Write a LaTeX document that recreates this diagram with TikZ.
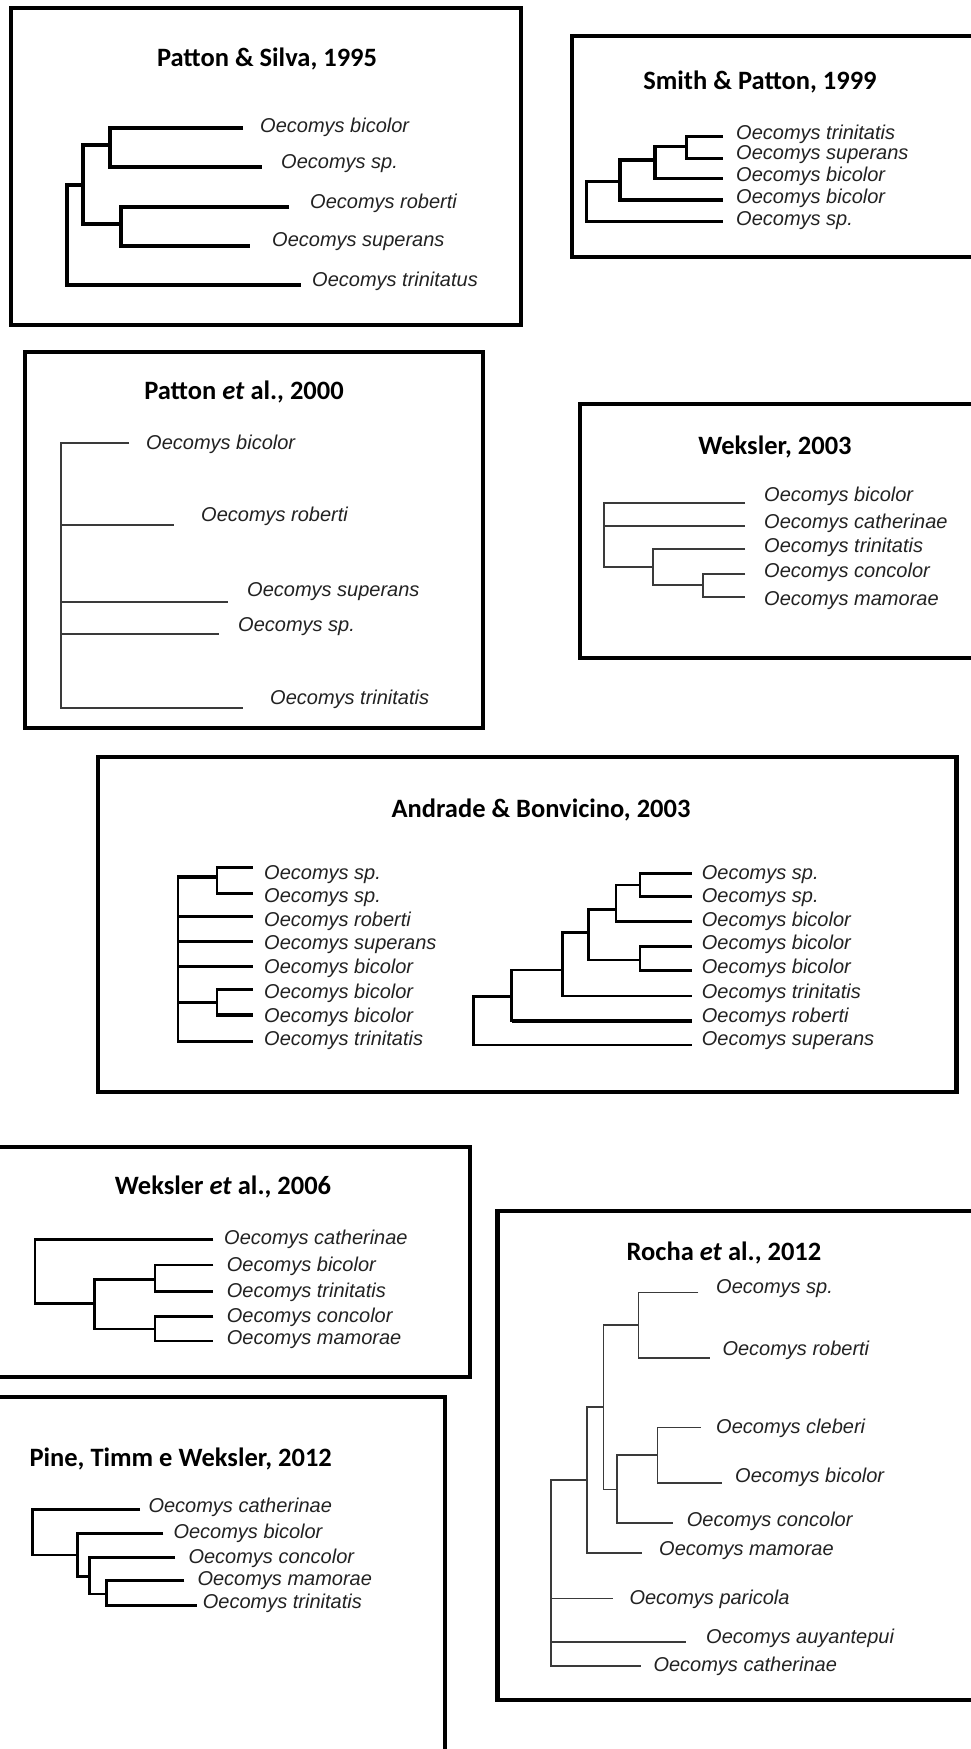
\documentclass[tikz,border=0pt]{standalone}
\usepackage{fontspec}
\setmainfont{Liberation Sans}
\newfontfamily\ttlfamily{Carlito}
\definecolor{lblgray}{HTML}{222222}
\definecolor{lngray}{HTML}{3A3A3A}
\tikzset{
  panel/.style={draw=black, line width=4.5pt},
  ttl/.style={font=\ttlfamily\bfseries\fontsize{26.5}{30}\selectfont, inner sep=0pt, text=black},
  lbl/.style={font=\itshape\fontsize{20}{24}\selectfont, anchor=base west, inner sep=0pt, text=lblgray},
  br/.style={draw=black, line width=3.2pt, line join=miter},
  brthin/.style={draw=lngray, line width=1.6pt},
  brmid/.style={draw=black, line width=2.5pt},
  brthk/.style={draw=black, line width=3.4pt},
}
\newcommand\oec[4]{\node[lbl] (#1) at (#2,#3) {Oecomys #4};}
\begin{document}
\begin{tikzpicture}[x=1pt,y=-1pt]
\useasboundingbox (0,0) rectangle (970,1749);
\fill[white] (0,0) rectangle (970,1749);

% ---------- Panel 1: Patton & Silva, 1995
\draw[panel] (11,8) rectangle (521,325);
\node[ttl] (t1) at (267,59) {Patton \& Silva, 1995};
\draw[br] (243,128) -| (110,167) -- (262,167);
\draw[br] (289,207) -| (121,246) -- (250,246);
\draw[br] (110,145) -| (83,224) -- (121,224);
\draw[br] (83,185) -| (67,285) -- (301,285);
\oec{p1a}{260}{132}{bicolor}
\oec{p1b}{281}{168}{sp.}
\oec{p1c}{310}{208}{roberti}
\oec{p1d}{272}{246}{superans}
\oec{p1e}{312}{286}{trinitatus}

% ---------- Panel 2: Smith & Patton, 1999
\draw[panel] (572,36) rectangle (980,257);
\node[ttl] (t2) at (760,82) {Smith \& Patton, 1999};
\draw[br] (723,136.7) -| (686.7,158.3) -- (723,158.3);
\draw[br] (686.7,146.7) -| (655,178.3) -- (723,178.3);
\draw[br] (655,160) -| (620,200) -- (723,200);
\draw[br] (620,181.7) -| (586.7,221.7) -- (723,221.7);
\oec{p2a}{736}{139}{trinitatis}
\oec{p2b}{736}{159}{superans}
\oec{p2c}{736}{181}{bicolor}
\oec{p2d}{736}{203}{bicolor}
\oec{p2e}{736}{225}{sp.}

% ---------- Panel 3: Patton et al., 2000
\draw[panel] (25,352) rectangle (483,728);
\node[ttl] (t3) at (244,392) {Patton \textit{et} al., 2000};
\draw[brthin] (129,443) -- (61,443) -- (61,708) -- (243,708);
\draw[brthin] (61,525) -- (174,525);
\draw[brthin] (61,602) -- (228,602);
\draw[brthin] (61,634) -- (219,634);
\oec{p3a}{146}{449}{bicolor}
\oec{p3b}{201}{521}{roberti}
\oec{p3c}{247}{596}{superans}
\oec{p3d}{238}{631}{sp.}
\oec{p3e}{270}{704}{trinitatis}

% ---------- Panel 4: Weksler, 2003
\draw[panel] (580,404) rectangle (980,658);
\node[ttl] (t4) at (775,447) {Weksler, 2003};
\draw[brthin] (745,503) -| (604,567) -- (653,567);
\draw[brthin] (604,526) -- (745,526);
\draw[brthin] (745,549) -| (653,585) -- (703,585);
\draw[brthin] (745,574) -| (703,597) -- (745,597);
\oec{p4a}{764}{501}{bicolor}
\oec{p4b}{764}{528}{catherinae}
\oec{p4c}{764}{552}{trinitatis}
\oec{p4d}{764}{577}{concolor}
\oec{p4e}{764}{605}{mamorae}

% ---------- Panel 5: Andrade & Bonvicino, 2003
\draw[panel] (98,757) rectangle (956.5,1092);
\node[ttl] (t5) at (541,810) {Andrade \& Bonvicino, 2003};
% left tree
\draw[draw=black, line width=1.6pt] (178,877) -- (178,1041.7);
\draw[draw=black, line width=1.6pt] (216.7,867.7) -- (216.7,893.3);
\draw[draw=black, line width=1.6pt] (216.7,989.3) -- (216.7,1015);
\foreach \yy in {867.7,893.3,989.3,1015}
  \draw[brthk] (215.9,\yy) -- (253,\yy);
\foreach \yy in {916.7,941.7,966.7,1041.7}
  \draw[brthk] (177.2,\yy) -- (253,\yy);
\draw[brthk] (177.2,877) -- (216.7,877);
\draw[brthk] (177.2,1002.7) -- (216.7,1002.7);
\oec{p5a}{264}{879}{sp.}
\oec{p5b}{264}{902}{sp.}
\oec{p5c}{264}{926}{roberti}
\oec{p5d}{264}{949}{superans}
\oec{p5e}{264}{973}{bicolor}
\oec{p5f}{264}{998}{bicolor}
\oec{p5g}{264}{1022}{bicolor}
\oec{p5h}{264}{1045}{trinitatis}
% right tree
\draw[brmid] (691.7,873.3) -| (640,896.7) -- (691.7,896.7);
\draw[brmid] (640,885) -| (616,921.7) -- (691.7,921.7);
\draw[brmid] (691.7,946.7) -| (640,970.7) -- (691.7,970.7);
\draw[brmid] (616,909.3) -| (588.3,960) -- (640,960);
\draw[brmid] (588.3,932.7) -| (562.3,996) -- (691.7,996);
\draw[brmid] (562.3,970) -| (511.7,1021) -- (691.7,1021);
\draw[brthk] (511.7,1021) -- (691.7,1021);
\draw[brmid] (511.7,996.7) -| (473.3,1045) -- (691.7,1045);
\oec{p5i}{701.7}{879}{sp.}
\oec{p5j}{701.7}{902}{sp.}
\oec{p5k}{701.7}{926}{bicolor}
\oec{p5l}{701.7}{949}{bicolor}
\oec{p5m}{701.7}{973}{bicolor}
\oec{p5n}{701.7}{998}{trinitatis}
\oec{p5o}{701.7}{1022}{roberti}
\oec{p5p}{701.7}{1045}{superans}

% ---------- Panel 6: Weksler et al., 2006
\draw[panel] (-10,1147) rectangle (470,1377);
\node[ttl] (t6) at (223,1187) {Weksler \textit{et} al., 2006};
\draw[brmid] (213.3,1239.3) -| (35,1303.3) -- (94.3,1303.3);
\draw[brmid] (213.3,1265) -| (155,1291.7) -- (213.3,1291.7);
\draw[brmid] (213.3,1316.7) -| (155,1341) -- (213.3,1341);
\draw[brmid] (155,1279.3) -| (94.3,1329) -- (155,1329);
\oec{p6a}{224}{1244}{catherinae}
\oec{p6b}{226.7}{1271}{bicolor}
\oec{p6c}{226.7}{1297}{trinitatis}
\oec{p6d}{226.7}{1322}{concolor}
\oec{p6e}{226.7}{1344}{mamorae}

% ---------- Panel 7: Rocha et al., 2012
\draw[panel] (497.5,1211) rectangle (985,1700);
\node[ttl] (t7) at (724,1253) {Rocha \textit{et} al., 2012};
\draw[brthin] (698.3,1292.3) -| (638.3,1357.7) -- (710,1357.7);
\draw[brthin] (700.7,1427.3) -| (657.3,1482.7) -- (722.3,1482.7);
\draw[brthin] (657.3,1455) -| (616.7,1522.7) -- (673.3,1522.7);
\draw[brthin] (638.3,1325) -| (603.3,1489.3) -- (616.7,1489.3);
\draw[brthin] (603.3,1406.7) -| (586.7,1552.7) -- (641.7,1552.7);
\draw[brthin] (586.7,1480) -| (551,1666) -- (640.7,1666);
\draw[brthin] (551,1598.3) -- (613.3,1598.3);
\draw[brthin] (551,1641.7) -- (686,1641.7);
\oec{p7a}{716}{1293}{sp.}
\oec{p7b}{722.3}{1355}{roberti}
\oec{p7c}{716}{1433}{cleberi}
\oec{p7d}{735}{1482}{bicolor}
\oec{p7e}{686.7}{1526}{concolor}
\oec{p7f}{659}{1555}{mamorae}
\oec{p7g}{629.3}{1604}{paricola}
\oec{p7h}{706}{1643.5}{auyantepui}
\oec{p7i}{653.3}{1671}{catherinae}

% ---------- Panel 8: Pine, Timm e Weksler, 2012
\draw[panel] (-10,1397) rectangle (445,1770);
\node[ttl, anchor=west] (t8) at (29.3,1459.3) {Pine, Timm e Weksler, 2012};
\draw[brmid] (140,1509.3) -| (32.3,1555) -- (77.3,1555);
\draw[brmid] (163.3,1533.3) -| (77.3,1576.7) -- (89.3,1576.7);
\draw[brmid] (175,1557.7) -| (89.3,1594) -- (106.7,1594);
\draw[brmid] (184.3,1580.7) -| (106.7,1605.7) -- (196.7,1605.7);
\oec{p8a}{148.3}{1512}{catherinae}
\oec{p8b}{173.3}{1538.5}{bicolor}
\oec{p8c}{188.3}{1563.5}{concolor}
\oec{p8d}{197.3}{1585}{mamorae}
\oec{p8e}{202.7}{1608.5}{trinitatis}
\end{tikzpicture}
\end{document}
